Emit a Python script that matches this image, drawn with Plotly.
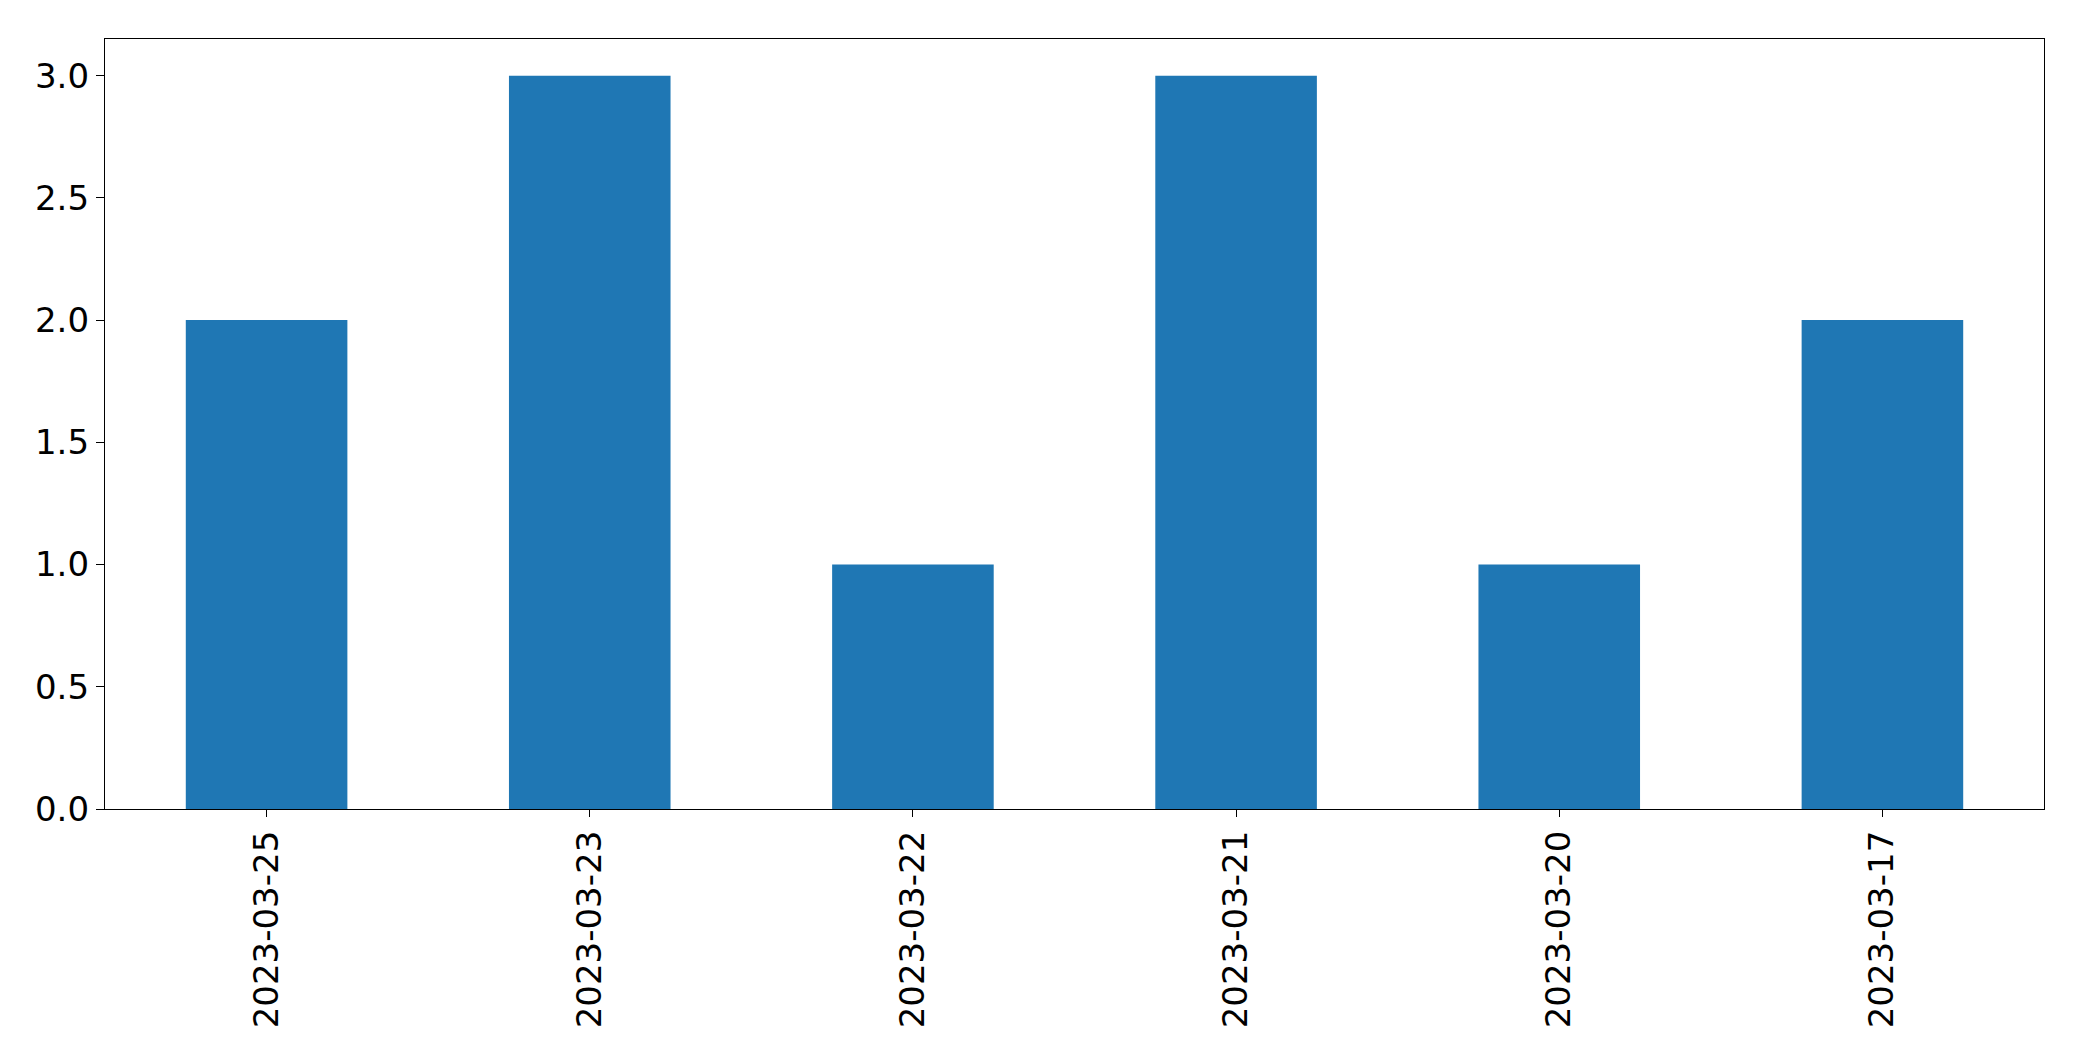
import plotly.graph_objects as go

dates = ["2023-03-25", "2023-03-23", "2023-03-22", "2023-03-21", "2023-03-20", "2023-03-17"]
counts = [2, 3, 1, 3, 1, 2]
ytick_vals = [0.0, 0.5, 1.0, 1.5, 2.0, 2.5, 3.0]

fig = go.Figure(go.Bar(
    x=dates, y=counts, width=0.5,
    marker=dict(color="#1f77b4", line=dict(width=0)),
))

# page body has an 8px default margin, so the figure is offset by 8px
fig.update_layout(
    width=2074, height=1053,
    margin=dict(l=97, r=38, t=31, b=252),
    paper_bgcolor="white", plot_bgcolor="white",
    font=dict(family="DejaVu Sans", size=34, color="black"),
    showlegend=False,
)
fig.update_xaxes(
    type="category", range=[-0.5, 5.5], automargin=False,
    showline=True, linecolor="black", linewidth=1.3, mirror=True,
    ticks="outside", ticklen=7, tickwidth=1.3, tickcolor="black",
    tickangle=-90, showgrid=False, zeroline=False,
)
fig.update_yaxes(
    range=[0, 3.15], tickvals=ytick_vals, tickformat=".1f", automargin=False,
    showline=True, linecolor="black", linewidth=1.3, mirror=True,
    ticks="outside", ticklen=8, tickwidth=1.3, tickcolor="black",
    showgrid=False, zeroline=False,
)

fig.write_html("out.html")
